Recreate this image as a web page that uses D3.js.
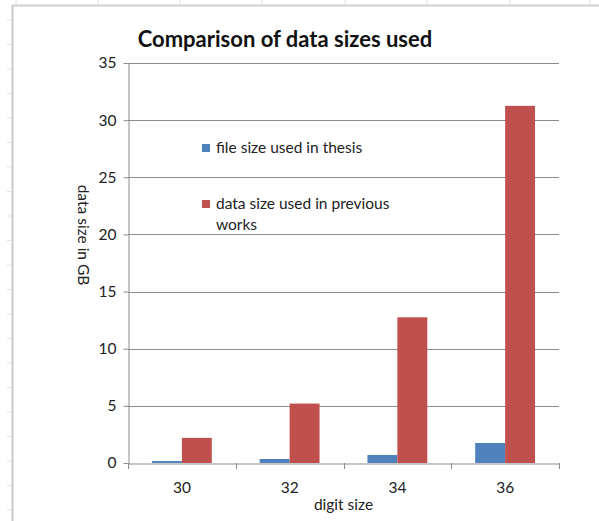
<!DOCTYPE html>
<html>
<head>
<meta charset="utf-8">
<script src="https://cdn.jsdelivr.net/npm/d3@7"></script>
<style>
  html, body { margin: 0; padding: 0; background: #fff; }
  svg { display: block; font-family: Lato, "Open Sans", sans-serif; }
</style>
</head>
<body>
<svg id="chart" width="599" height="521"></svg>
<script>
// Digit sizes on the x axis
const categories = ["30", "32", "34", "36"];
// Sizes in GB for each series
const thesisSizes = [0.17, 0.35, 0.7, 1.75];
const previousSizes = [2.2, 5.2, 12.75, 31.25];
const seriesNames = ["file size used in thesis", "data size used in previous works"];
const seriesColors = ["#4F81BD", "#C0504D"];
const yTicks = [0, 5, 10, 15, 20, 25, 30, 35];

const svg = d3.select("#chart");
const margin = { left: 128, right: 40, top: 63, bottom: 58 };
const W = 599, H = 521;
const labelSize = 15.5;

// Sheet frame around the chart object
svg.append("line").attr("x1", 12.5).attr("x2", 12.5).attr("y1", 5).attr("y2", H)
  .attr("stroke", "#c8c8c8").attr("stroke-width", 2);
svg.append("line").attr("x1", 12).attr("x2", W).attr("y1", 5.5).attr("y2", 5.5)
  .attr("stroke", "#d0d0d0").attr("stroke-width", 2);
// row / column marks of the sheet
d3.range(20, H, 24.5).forEach(y => {
  svg.append("line").attr("x1", 7).attr("x2", 12).attr("y1", y).attr("y2", y)
    .attr("stroke", "#e2e2e2");
});
[16, 98, 180, 262, 345, 427, 510, 590].forEach(x => {
  svg.append("line").attr("x1", x).attr("x2", x).attr("y1", 0).attr("y2", 5)
    .attr("stroke", "#e2e2e2");
});

const x = d3.scaleBand().domain(categories)
  .range([margin.left, W - margin.right]).paddingInner(0).paddingOuter(0);
const y = d3.scaleLinear().domain([0, 35]).range([H - margin.bottom, margin.top]);
const inner = d3.scaleBand().domain([0, 1]).range([0, x.bandwidth()]).paddingOuter(0.8).paddingInner(0);

// Gridlines
svg.append("g").selectAll("line").data(yTicks.filter(d => d > 0)).join("line")
  .attr("x1", margin.left).attr("x2", W - margin.right)
  .attr("y1", d => Math.round(y(d)) + 0.5).attr("y2", d => Math.round(y(d)) + 0.5)
  .attr("stroke", "#8c8c8c").attr("stroke-width", 1);

// Bars
const series = [thesisSizes, previousSizes];
series.forEach((vals, si) => {
  svg.append("g").selectAll("rect").data(vals).join("rect")
    .attr("x", (d, i) => x(categories[i]) + inner(si))
    .attr("width", inner.bandwidth())
    .attr("y", d => y(d))
    .attr("height", d => y(0) - y(d))
    .attr("fill", seriesColors[si]);
});

// Y axis
const yAxis = svg.append("g")
  .attr("transform", `translate(${margin.left + 0.5},0)`)
  .call(d3.axisLeft(y).tickValues(yTicks).tickSize(5).tickPadding(7).tickSizeOuter(0));
yAxis.select(".domain").attr("stroke", "#8c8c8c");
yAxis.selectAll(".tick line").attr("stroke", "#8c8c8c");
yAxis.selectAll("text").attr("font-size", labelSize).attr("fill", "#222")
  .attr("font-family", "Lato, sans-serif");

// X axis
const xAxis = svg.append("g")
  .attr("transform", `translate(0,${Math.round(y(0)) + 0.5})`)
  .call(d3.axisBottom(x).tickSize(0).tickPadding(18).tickSizeOuter(0));
xAxis.select(".domain").attr("stroke", "#8c8c8c");
xAxis.selectAll("text").attr("font-size", labelSize).attr("fill", "#222")
  .attr("font-family", "Lato, sans-serif");
// category separators
svg.append("g").selectAll("line")
  .data(categories.map(c => x(c)).concat([x(categories[categories.length - 1]) + x.bandwidth()]))
  .join("line")
  .attr("x1", d => Math.round(d) + 0.5).attr("x2", d => Math.round(d) + 0.5)
  .attr("y1", y(0)).attr("y2", y(0) + 6)
  .attr("stroke", "#8c8c8c");

// Title
svg.append("text").attr("x", 285).attr("y", 47).attr("text-anchor", "middle")
  .attr("font-size", 22).attr("font-weight", "bold").attr("fill", "#111")
  .text("Comparison  of data sizes used");

// Axis titles
svg.append("text").attr("x", (margin.left + W - margin.right) / 2).attr("y", 510)
  .attr("text-anchor", "middle").attr("font-size", labelSize).attr("fill", "#222")
  .text("digit size");
svg.append("text").attr("transform", "translate(78,235) rotate(90)")
  .attr("text-anchor", "middle").attr("font-size", labelSize).attr("fill", "#222")
  .text("data size in GB");

// Legend
const legend = svg.append("g");
const legendRows = [[seriesNames[0]], ["data size used in previous", "works"]];
const legendY = [153, 209];
legendRows.forEach((lines, i) => {
  legend.append("rect").attr("x", 202).attr("y", legendY[i] - 9)
    .attr("width", 8).attr("height", 8).attr("fill", seriesColors[i]);
  lines.forEach((t, j) => {
    legend.append("text").attr("x", 216).attr("y", legendY[i] + j * 21)
      .attr("font-size", labelSize).attr("fill", "#222").text(t);
  });
});
</script>
</body>
</html>
